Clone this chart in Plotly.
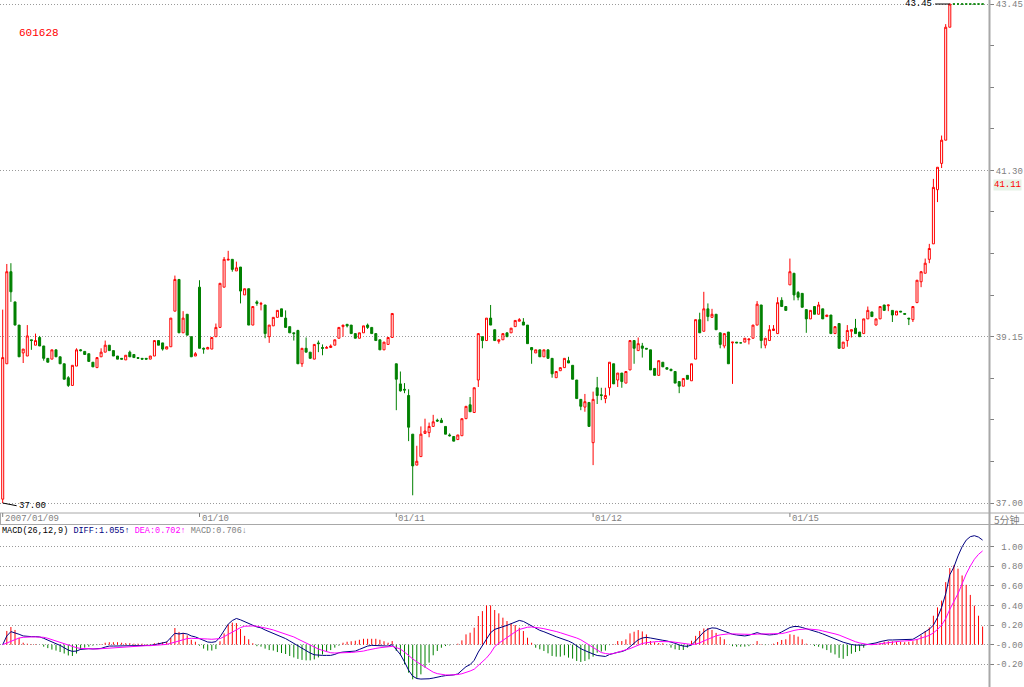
import plotly.graph_objects as go

# ---------------- data (5-minute bars, 601628, 2007/01/09 - 01/15) ----------------
open_ = [
    37.05, 38.80, 39.99, 39.60, 39.30, 38.94, 38.90, 39.11, 39.04, 39.14,
    39.03, 38.87, 38.86, 38.98, 38.89, 38.80, 38.62, 38.52, 38.77, 38.98,
    38.96, 38.93, 38.82, 38.75, 38.89, 38.95, 39.04, 38.97, 38.90, 38.87,
    38.85, 38.95, 38.92, 38.88, 38.87, 38.87, 38.86, 38.90, 39.10, 39.07,
    38.99, 39.02, 39.48, 39.89, 39.20, 39.44, 39.15, 38.90, 39.79, 39.00,
    38.99, 38.99, 39.15, 39.27, 39.79, 40.14, 40.15, 40.00, 40.05, 39.69,
    39.77, 39.30, 39.60, 39.57, 39.56, 39.15, 39.29, 39.40, 39.51, 39.39,
    39.28, 39.20, 39.23, 38.80, 39.00, 38.95, 38.86, 39.07, 39.01, 39.00,
    39.01, 39.04, 39.13, 39.28, 39.31, 39.30, 39.19, 39.13, 39.20, 39.30,
    39.27, 39.19, 39.11, 38.98, 39.05, 39.14, 38.80, 38.54, 38.47, 38.39,
    37.89, 37.49, 37.60, 37.90, 37.91, 37.99, 38.07, 38.07, 37.99, 37.88,
    37.86, 37.82, 37.87, 38.09, 38.27, 38.17, 38.59, 39.15, 39.10, 39.39,
    39.24, 39.09, 39.11, 39.20, 39.20, 39.28, 39.35, 39.34, 39.30, 39.01,
    38.94, 38.98, 38.89, 38.98, 38.87, 38.62, 38.71, 38.75, 38.84, 38.78,
    38.59, 38.34, 38.24, 38.30, 37.78, 38.49, 38.40, 38.35, 38.49, 38.80,
    38.59, 38.68, 38.55, 38.72, 39.10, 38.97, 39.03, 39.00, 38.98, 38.74,
    38.65, 38.82, 38.75, 38.73, 38.70, 38.57, 38.51, 38.65, 38.58, 38.86,
    39.37, 39.22, 39.51, 39.40, 39.44, 39.20, 39.03, 39.21, 39.07, 39.08,
    39.07, 39.08, 39.11, 39.13, 39.30, 39.56, 39.04, 39.10, 39.23, 39.19,
    39.62, 39.54, 39.82, 39.97, 39.72, 39.71, 39.50, 39.38, 39.54, 39.44,
    39.51, 39.41, 39.43, 39.19, 39.32, 39.00, 39.10, 39.22, 39.26, 39.21,
    39.19, 39.38, 39.47, 39.30, 39.38, 39.56, 39.55, 39.49, 39.43, 39.48,
    39.45, 39.39, 39.37, 39.59, 39.86, 39.97, 40.15, 40.35, 41.05, 41.39,
    41.69, 43.15, 43.45, 43.45, 43.45, 43.45, 43.45, 43.45, 43.45, 43.45,
]
high = [
    39.50, 40.09, 40.10, 39.60, 39.30, 38.99, 39.30, 39.11, 39.19, 39.16,
    39.03, 38.87, 38.98, 38.98, 38.89, 38.80, 38.64, 38.78, 39.00, 38.99,
    38.96, 38.93, 38.82, 38.88, 39.00, 39.10, 39.04, 38.97, 38.90, 38.87,
    38.91, 38.97, 38.92, 38.88, 38.87, 38.87, 38.90, 39.10, 39.10, 39.07,
    39.02, 39.39, 39.94, 39.89, 39.48, 39.44, 39.15, 38.95, 39.88, 39.01,
    39.02, 39.14, 39.32, 39.84, 40.18, 40.26, 40.15, 40.12, 40.05, 39.77,
    39.77, 39.54, 39.62, 39.60, 39.56, 39.30, 39.40, 39.49, 39.51, 39.49,
    39.28, 39.20, 39.24, 39.00, 39.14, 38.95, 39.05, 39.10, 39.05, 39.03,
    39.05, 39.11, 39.27, 39.30, 39.31, 39.30, 39.19, 39.20, 39.29, 39.32,
    39.27, 39.19, 39.11, 39.08, 39.14, 39.45, 38.80, 38.70, 38.55, 38.47,
    37.89, 37.74, 37.99, 38.09, 38.04, 38.14, 38.09, 38.10, 37.99, 37.90,
    37.86, 37.88, 38.09, 38.25, 38.37, 38.49, 39.19, 39.15, 39.39, 39.56,
    39.24, 39.11, 39.19, 39.20, 39.26, 39.36, 39.39, 39.39, 39.30, 39.01,
    38.98, 38.98, 38.98, 38.98, 38.87, 38.70, 38.75, 38.87, 38.89, 38.78,
    38.59, 38.34, 38.41, 38.30, 38.44, 38.63, 38.49, 38.49, 38.82, 38.80,
    38.68, 38.68, 38.70, 39.10, 39.10, 39.14, 39.07, 39.00, 38.98, 38.74,
    38.84, 38.82, 38.75, 38.73, 38.70, 38.57, 38.61, 38.65, 38.80, 39.37,
    39.46, 39.73, 39.58, 39.51, 39.44, 39.20, 39.19, 39.21, 39.08, 39.08,
    39.07, 39.13, 39.12, 39.30, 39.61, 39.56, 39.13, 39.30, 39.30, 39.66,
    39.66, 39.54, 40.16, 39.97, 39.74, 39.71, 39.50, 39.49, 39.54, 39.60,
    39.51, 39.43, 39.43, 39.28, 39.32, 39.08, 39.30, 39.24, 39.38, 39.21,
    39.38, 39.54, 39.47, 39.38, 39.54, 39.56, 39.56, 39.49, 39.48, 39.48,
    39.45, 39.39, 39.54, 39.88, 40.00, 40.16, 40.35, 41.19, 41.34, 41.75,
    43.19, 43.45, 43.45, 43.45, 43.45, 43.45, 43.45, 43.45, 43.45, 43.45,
]
low = [
    37.00, 38.80, 39.60, 39.30, 38.89, 38.81, 38.90, 38.98, 39.04, 39.03,
    38.84, 38.82, 38.86, 38.89, 38.80, 38.60, 38.50, 38.52, 38.77, 38.96,
    38.92, 38.83, 38.76, 38.75, 38.89, 38.95, 38.97, 38.90, 38.86, 38.86,
    38.85, 38.89, 38.88, 38.87, 38.86, 38.86, 38.86, 38.90, 39.04, 38.97,
    38.99, 39.02, 39.48, 39.20, 39.20, 39.17, 38.89, 38.90, 39.00, 38.93,
    38.99, 38.99, 39.15, 39.27, 39.79, 40.14, 39.99, 40.00, 39.58, 39.69,
    39.30, 39.30, 39.55, 39.49, 39.13, 39.07, 39.29, 39.40, 39.41, 39.27,
    39.20, 39.10, 38.80, 38.76, 38.95, 38.87, 38.86, 38.95, 38.91, 39.00,
    39.01, 39.04, 39.13, 39.15, 39.27, 39.19, 39.13, 39.13, 39.20, 39.25,
    39.19, 39.10, 38.98, 38.98, 39.05, 39.14, 38.20, 38.44, 38.42, 37.80,
    37.10, 37.49, 37.60, 37.90, 37.85, 37.99, 38.05, 38.04, 37.89, 37.86,
    37.80, 37.82, 37.87, 38.09, 38.18, 38.17, 38.50, 39.00, 39.10, 39.30,
    39.10, 39.06, 39.11, 39.15, 39.20, 39.28, 39.35, 39.30, 39.06, 38.80,
    38.94, 38.89, 38.89, 38.87, 38.62, 38.62, 38.71, 38.75, 38.81, 38.60,
    38.35, 38.20, 38.18, 37.99, 37.49, 38.28, 38.33, 38.29, 38.39, 38.54,
    38.50, 38.49, 38.55, 38.72, 38.80, 38.97, 38.88, 38.99, 38.72, 38.65,
    38.65, 38.76, 38.73, 38.71, 38.55, 38.42, 38.51, 38.60, 38.58, 38.86,
    39.20, 39.22, 39.35, 39.40, 39.24, 39.00, 39.00, 38.80, 38.54, 39.07,
    39.07, 39.08, 39.05, 39.13, 39.30, 39.00, 39.00, 39.10, 39.23, 39.19,
    39.54, 39.49, 39.82, 39.62, 39.62, 39.53, 39.20, 39.38, 39.44, 39.44,
    39.38, 39.41, 39.19, 39.19, 39.00, 39.00, 39.02, 39.14, 39.19, 39.15,
    39.19, 39.38, 39.41, 39.30, 39.38, 39.49, 39.48, 39.34, 39.43, 39.47,
    39.44, 39.30, 39.34, 39.59, 39.79, 39.97, 40.10, 40.35, 40.89, 41.33,
    41.69, 43.15, 43.45, 43.45, 43.45, 43.45, 43.45, 43.45, 43.45, 43.45,
]
close = [
    38.88, 39.99, 39.73, 39.30, 38.89, 38.99, 39.16, 39.10, 39.10, 39.03,
    38.87, 38.82, 38.98, 38.89, 38.80, 38.60, 38.52, 38.78, 38.98, 38.97,
    38.92, 38.83, 38.76, 38.88, 38.95, 39.04, 38.97, 38.90, 38.86, 38.86,
    38.91, 38.89, 38.88, 38.87, 38.86, 38.86, 38.90, 39.10, 39.04, 38.99,
    39.02, 39.39, 39.89, 39.20, 39.39, 39.17, 38.89, 38.93, 39.00, 38.99,
    39.01, 39.14, 39.27, 39.84, 40.15, 40.15, 40.02, 40.04, 39.74, 39.77,
    39.30, 39.54, 39.58, 39.58, 39.19, 39.30, 39.40, 39.49, 39.41, 39.27,
    39.20, 39.19, 38.80, 39.00, 38.95, 38.87, 39.05, 39.06, 39.00, 39.01,
    39.03, 39.11, 39.27, 39.30, 39.29, 39.19, 39.13, 39.20, 39.29, 39.27,
    39.19, 39.10, 38.98, 39.08, 39.14, 39.45, 38.60, 38.45, 38.46, 37.98,
    37.48, 37.54, 37.89, 37.93, 37.99, 38.05, 38.06, 38.04, 37.89, 37.87,
    37.80, 37.88, 38.09, 38.25, 38.18, 38.49, 39.19, 39.10, 39.39, 39.30,
    39.10, 39.11, 39.19, 39.15, 39.26, 39.36, 39.37, 39.30, 39.06, 38.98,
    38.98, 38.89, 38.98, 38.87, 38.67, 38.70, 38.75, 38.87, 38.81, 38.60,
    38.35, 38.25, 38.31, 37.99, 38.34, 38.39, 38.39, 38.39, 38.82, 38.54,
    38.68, 38.57, 38.70, 39.10, 39.00, 39.06, 39.00, 38.99, 38.72, 38.65,
    38.84, 38.76, 38.73, 38.71, 38.55, 38.51, 38.61, 38.60, 38.80, 39.37,
    39.20, 39.51, 39.41, 39.44, 39.24, 39.05, 39.19, 38.80, 39.08, 39.07,
    39.07, 39.13, 39.12, 39.30, 39.57, 39.10, 39.13, 39.24, 39.25, 39.59,
    39.54, 39.49, 39.99, 39.69, 39.66, 39.53, 39.38, 39.49, 39.44, 39.56,
    39.38, 39.43, 39.19, 39.28, 39.00, 39.08, 39.23, 39.24, 39.19, 39.15,
    39.38, 39.49, 39.41, 39.38, 39.54, 39.49, 39.56, 39.43, 39.48, 39.47,
    39.44, 39.38, 39.54, 39.88, 39.99, 40.10, 40.29, 41.08, 41.34, 41.69,
    43.15, 43.45, 43.45, 43.45, 43.45, 43.45, 43.45, 43.45, 43.45, 43.45,
]

diff = [
    0.000, 0.089, 0.133, 0.123, 0.106, 0.089, 0.082, 0.082, 0.082, 0.079,
    0.065, 0.044, 0.027, 0.010, -0.007, -0.031, -0.055, -0.068, -0.065, -0.048,
    -0.041, -0.041, -0.044, -0.044, -0.038, -0.024, -0.014, -0.014, -0.014, -0.014,
    -0.014, -0.010, -0.010, -0.010, -0.010, -0.010, -0.007, 0.000, 0.007, 0.014,
    0.027, 0.072, 0.116, 0.109, 0.116, 0.109, 0.089, 0.079, 0.062, 0.041,
    0.027, 0.024, 0.031, 0.079, 0.140, 0.209, 0.246, 0.267, 0.253, 0.232,
    0.219, 0.198, 0.181, 0.171, 0.150, 0.133, 0.120, 0.099, 0.082, 0.062,
    0.038, 0.014, -0.014, -0.041, -0.065, -0.085, -0.103, -0.109, -0.109, -0.109,
    -0.109, -0.099, -0.082, -0.075, -0.072, -0.068, -0.065, -0.048, -0.031, -0.014,
    -0.007, -0.007, -0.007, -0.010, -0.014, 0.000, -0.050, -0.100, -0.175, -0.260,
    -0.320, -0.345, -0.350, -0.350, -0.347, -0.340, -0.329, -0.322, -0.315, -0.312,
    -0.308, -0.298, -0.258, -0.224, -0.203, -0.159, -0.075, -0.007, 0.061, 0.122,
    0.156, 0.173, 0.183, 0.197, 0.214, 0.234, 0.247, 0.237, 0.214, 0.190,
    0.163, 0.146, 0.132, 0.119, 0.098, 0.081, 0.068, 0.054, 0.037, 0.017,
    -0.014, -0.041, -0.060, -0.080, -0.095, -0.110, -0.115, -0.120, -0.100, -0.085,
    -0.078, -0.070, -0.055, -0.020, 0.012, 0.050, 0.068, 0.075, 0.068, 0.058,
    0.051, 0.045, 0.038, 0.027, 0.014, -0.003, -0.014, -0.017, -0.003, 0.038,
    0.089, 0.130, 0.158, 0.171, 0.168, 0.151, 0.134, 0.120, 0.106, 0.099,
    0.092, 0.089, 0.096, 0.110, 0.123, 0.110, 0.103, 0.099, 0.103, 0.110,
    0.130, 0.151, 0.175, 0.185, 0.185, 0.175, 0.164, 0.154, 0.140, 0.125,
    0.110, 0.095, 0.078, 0.060, 0.042, 0.025, 0.012, 0.002, -0.004, -0.006,
    -0.005, 0.003, 0.008, 0.018, 0.031, 0.041, 0.048, 0.048, 0.048, 0.048,
    0.048, 0.048, 0.055, 0.079, 0.106, 0.130, 0.158, 0.199, 0.277, 0.380,
    0.517, 0.712, 0.791, 0.904, 0.997, 1.065, 1.100, 1.110, 1.096, 1.065,
]
dea = [
    0.000, 0.017, 0.041, 0.058, 0.068, 0.075, 0.079, 0.079, 0.079, 0.079,
    0.075, 0.065, 0.051, 0.038, 0.024, 0.010, -0.007, -0.021, -0.031, -0.038,
    -0.041, -0.041, -0.044, -0.044, -0.041, -0.038, -0.034, -0.031, -0.027, -0.024,
    -0.021, -0.017, -0.014, -0.014, -0.014, -0.010, -0.010, -0.007, -0.003, 0.000,
    0.003, 0.014, 0.027, 0.041, 0.055, 0.062, 0.065, 0.065, 0.065, 0.062,
    0.058, 0.055, 0.055, 0.062, 0.082, 0.106, 0.133, 0.157, 0.174, 0.188,
    0.191, 0.191, 0.188, 0.181, 0.171, 0.161, 0.150, 0.137, 0.123, 0.109,
    0.096, 0.079, 0.058, 0.038, 0.014, -0.007, -0.027, -0.044, -0.058, -0.072,
    -0.082, -0.085, -0.085, -0.085, -0.082, -0.079, -0.075, -0.072, -0.065, -0.055,
    -0.044, -0.038, -0.031, -0.027, -0.024, -0.017, -0.030, -0.045, -0.075, -0.115,
    -0.145, -0.175, -0.200, -0.230, -0.255, -0.280, -0.295, -0.305, -0.308, -0.309,
    -0.308, -0.304, -0.296, -0.284, -0.268, -0.250, -0.215, -0.175, -0.135, -0.085,
    -0.020, 0.015, 0.045, 0.075, 0.105, 0.130, 0.155, 0.170, 0.178, 0.180,
    0.178, 0.170, 0.163, 0.155, 0.145, 0.134, 0.122, 0.110, 0.097, 0.085,
    0.068, 0.050, 0.025, 0.000, -0.025, -0.050, -0.080, -0.090, -0.095, -0.090,
    -0.075, -0.065, -0.052, -0.040, -0.020, 0.000, 0.012, 0.020, 0.027, 0.030,
    0.032, 0.033, 0.032, 0.030, 0.025, 0.018, 0.010, 0.004, 0.002, 0.006,
    0.018, 0.038, 0.058, 0.075, 0.090, 0.100, 0.107, 0.110, 0.110, 0.108,
    0.106, 0.104, 0.103, 0.104, 0.108, 0.108, 0.107, 0.106, 0.106, 0.108,
    0.113, 0.122, 0.135, 0.145, 0.153, 0.158, 0.160, 0.158, 0.155, 0.150,
    0.140, 0.132, 0.122, 0.110, 0.098, 0.080, 0.062, 0.045, 0.030, 0.018,
    0.008, 0.002, 0.000, 0.002, 0.008, 0.015, 0.022, 0.028, 0.033, 0.036,
    0.038, 0.040, 0.045, 0.053, 0.065, 0.080, 0.095, 0.120, 0.155, 0.200,
    0.265, 0.360, 0.440, 0.520, 0.620, 0.720, 0.800, 0.870, 0.920, 0.955,
]
macd_hist = [
    0.000, 0.140, 0.180, 0.150, 0.070, 0.020, 0.010, 0.005, 0.005, 0.000,
    -0.020, -0.035, -0.050, -0.060, -0.075, -0.090, -0.110, -0.115, -0.090, -0.050,
    -0.030, -0.020, -0.010, -0.005, 0.005, 0.020, 0.025, 0.025, 0.025, 0.020,
    0.015, 0.015, 0.010, 0.010, 0.010, 0.005, 0.005, 0.015, 0.020, 0.025,
    0.030, 0.070, 0.170, 0.130, 0.120, 0.095, 0.050, 0.030, -0.010, -0.040,
    -0.060, -0.060, -0.045, 0.035, 0.115, 0.205, 0.225, 0.220, 0.160, 0.090,
    0.055, 0.015, -0.015, -0.020, -0.040, -0.055, -0.060, -0.075, -0.085, -0.095,
    -0.115, -0.130, -0.145, -0.155, -0.160, -0.160, -0.150, -0.130, -0.100, -0.075,
    -0.055, -0.030, -0.010, 0.020, 0.030, 0.035, 0.040, 0.050, 0.060, 0.060,
    0.060, 0.060, 0.050, 0.035, 0.020, 0.037, -0.064, -0.108, -0.200, -0.285,
    -0.353, -0.346, -0.302, -0.234, -0.183, -0.108, -0.064, -0.031, -0.014, -0.007,
    0.000, 0.010, 0.044, 0.105, 0.122, 0.173, 0.292, 0.342, 0.400, 0.400,
    0.353, 0.319, 0.275, 0.241, 0.217, 0.200, 0.173, 0.139, 0.071, 0.020,
    -0.031, -0.047, -0.064, -0.088, -0.115, -0.122, -0.122, -0.108, -0.132, -0.142,
    -0.166, -0.176, -0.166, -0.149, -0.122, -0.081, -0.070, -0.060, -0.005, 0.005,
    0.037, 0.037, 0.054, 0.115, 0.132, 0.149, 0.135, 0.105, 0.037, 0.025,
    0.017, 0.014, -0.005, -0.030, -0.047, -0.054, -0.054, -0.030, 0.040, 0.090,
    0.140, 0.165, 0.170, 0.150, 0.120, 0.080, 0.055, 0.000, -0.015, -0.020,
    -0.020, -0.020, -0.015, 0.005, 0.037, 0.005, -0.005, 0.000, 0.010, 0.027,
    0.048, 0.055, 0.106, 0.100, 0.082, 0.055, 0.010, 0.000, -0.014, -0.021,
    -0.038, -0.055, -0.082, -0.099, -0.134, -0.144, -0.116, -0.092, -0.075, -0.065,
    -0.031, 0.005, 0.010, 0.010, 0.020, 0.030, 0.035, 0.035, 0.030, 0.030,
    0.025, 0.030, 0.035, 0.055, 0.096, 0.140, 0.175, 0.295, 0.380, 0.449,
    0.637, 0.780, 0.808, 0.774, 0.705, 0.610, 0.507, 0.397, 0.295, 0.185,
]

day_ticks = [0, 48, 96, 144, 192]
day_labels = ["2007/01/09", "01/10", "01/11", "01/12", "01/15"]
price_ticks = [37.00, 39.15, 41.30, 43.45]
macd_ticks = [-0.20, 0.00, 0.20, 0.40, 0.60, 0.80, 1.00]
macd_tick_text = ["-0.20", "-0.00", "\u00a00.20", "\u00a00.40", "\u00a00.60", "\u00a00.80", "\u00a01.00"]
stock_code = "601628"
cursor_price = 41.11
macd_header = ("MACD(26,12,9) "
               "<span style='color:#000080'>DIFF:1.055\u2191</span> "
               "<span style='color:#FF00FF'>DEA:0.702\u2191</span> "
               "<span style='color:#808080'>MACD:0.706\u2193</span>")
period_label = "5分钟"

n = len(close)
assert len(open_) == n and len(high) == n and len(low) == n
assert len(diff) == n and len(dea) == n and len(macd_hist) == n
bars = list(range(n))

# ---------------- layout helpers (pixel -> paper) ----------------
W, H = 1024, 687
PLOT_W = 989
def px(x):
    return x / PLOT_W
def py(y):
    return (H - y) / H

MONO = "Liberation Mono, DejaVu Sans Mono, monospace"
GREY = "#808080"
LINE = "#A8A8A8"
GRID = "#9A9A9A"
UP = "#FF0000"
DOWN = "#008000"

fig = go.Figure()

# rising bars (close > open): hollow red; the rest (falling / flat): solid green
up_idx = [i for i in bars if close[i] > open_[i]]
dn_idx = [i for i in bars if close[i] <= open_[i]]

def pick(arr, idx):
    return [arr[i] for i in idx]

fig.add_trace(go.Candlestick(
    x=up_idx, open=pick(open_, up_idx), high=pick(high, up_idx),
    low=pick(low, up_idx), close=pick(close, up_idx),
    increasing=dict(line=dict(color=UP, width=1), fillcolor="#FFFFFF"),
    decreasing=dict(line=dict(color=UP, width=1), fillcolor="#FFFFFF"),
    whiskerwidth=0, xaxis="x", yaxis="y", hoverinfo="skip",
))
fig.add_trace(go.Candlestick(
    x=dn_idx, open=pick(open_, dn_idx), high=pick(high, dn_idx),
    low=pick(low, dn_idx), close=pick(close, dn_idx),
    increasing=dict(line=dict(color=DOWN, width=1), fillcolor=DOWN),
    decreasing=dict(line=dict(color=DOWN, width=1), fillcolor=DOWN),
    whiskerwidth=0, xaxis="x", yaxis="y", hoverinfo="skip",
))

# MACD histogram as thin stems
def stems(positive):
    xs, ys = [], []
    for i, v in zip(bars, macd_hist):
        if (v > 0) if positive else (v < 0):
            xs += [i, i, None]
            ys += [0, v, None]
    return xs, ys

for positive, col in ((True, UP), (False, DOWN)):
    sx, sy = stems(positive)
    fig.add_trace(go.Scatter(x=sx, y=sy, mode="lines", line=dict(color=col, width=1),
                             xaxis="x2", yaxis="y2", hoverinfo="skip", connectgaps=False))

fig.add_trace(go.Scatter(x=bars, y=diff, mode="lines",
                         line=dict(color="#000080", width=1),
                         xaxis="x2", yaxis="y2", hoverinfo="skip"))
fig.add_trace(go.Scatter(x=bars, y=dea, mode="lines",
                         line=dict(color="#FF00FF", width=1),
                         xaxis="x2", yaxis="y2", hoverinfo="skip"))

x_range = [-0.659, 240.56]

shapes = []
annotations = []

# date strip
shapes.append(dict(type="line", xref="paper", yref="paper", x0=0, x1=px(W), y0=py(513), y1=py(513),
                   line=dict(color=LINE, width=1)))
shapes.append(dict(type="line", xref="paper", yref="paper", x0=0, x1=px(W), y0=py(524.5), y1=py(524.5),
                   line=dict(color=LINE, width=1)))
shapes.append(dict(type="line", xref="paper", yref="paper", x0=px(0.5), x1=px(0.5), y0=py(513), y1=py(524.5),
                   line=dict(color=LINE, width=1)))
# right frame line
shapes.append(dict(type="line", xref="paper", yref="paper", x0=px(989.5), x1=px(989.5), y0=0, y1=1,
                   line=dict(color=LINE, width=2)))
for t, lab in zip(day_ticks, day_labels):
    shapes.append(dict(type="line", xref="x", yref="paper", x0=t, x1=t, y0=py(513), y1=py(517),
                       line=dict(color=GREY, width=1)))
    annotations.append(dict(x=t, xref="x", y=py(519), yref="paper", text=lab, showarrow=False,
                            xanchor="left", yanchor="middle", xshift=0,
                            font=dict(family=MONO, size=9, color=GREY)))
annotations.append(dict(x=px(992), xref="paper", y=py(519), yref="paper", text=period_label,
                        showarrow=False, xanchor="left", yanchor="middle",
                        font=dict(family="Noto Sans CJK SC", size=10, color=GREY)))

# high / low markers
hi_val = max(high)
hi_idx = high.index(hi_val)
lo_val = min(low)
lo_idx = low.index(lo_val)
shapes.append(dict(type="line", xref="x", yref="y", x0=hi_idx - 3.6, x1=hi_idx, y0=hi_val, y1=hi_val,
                   line=dict(color="#000000", width=1)))
annotations.append(dict(x=hi_idx - 3.6, xref="x", y=hi_val, yref="y", text=f"{hi_val:.2f}",
                        showarrow=False, xanchor="right", yanchor="middle", xshift=-1,
                        font=dict(family=MONO, size=9, color="#000000")))
shapes.append(dict(type="line", xref="x", yref="y", x0=lo_idx, x1=lo_idx + 3.4, y0=lo_val, y1=lo_val - 0.035,
                   line=dict(color="#000000", width=1)))
annotations.append(dict(x=lo_idx + 3.5, xref="x", y=lo_val - 0.04, yref="y", text=f"{lo_val:.2f}",
                        showarrow=False, xanchor="left", yanchor="middle",
                        font=dict(family=MONO, size=9, color="#000000")))

# texts
annotations.append(dict(x=px(17), xref="paper", y=py(33), yref="paper", text=stock_code, showarrow=False,
                        xanchor="left", yanchor="middle", font=dict(family=MONO, size=11, color="#FF0000")))
annotations.append(dict(x=0, xref="paper", y=py(531), yref="paper", text=macd_header, showarrow=False,
                        xanchor="left", yanchor="middle", font=dict(family=MONO, size=8.5, color="#000000")))
annotations.append(dict(x=px(993), xref="paper", y=cursor_price, yref="y", text=f"{cursor_price:.2f}",
                        showarrow=False, xanchor="left", yanchor="middle", bgcolor="#E6F2E6",
                        borderpad=0, font=dict(family=MONO, size=9, color="#FF0000")))

fig.update_layout(
    width=W, height=H,
    margin=dict(l=0, r=W - PLOT_W, t=0, b=0),
    paper_bgcolor="#FFFFFF", plot_bgcolor="#FFFFFF",
    showlegend=False, hovermode=False,
    xaxis=dict(domain=[0, 1], range=x_range, anchor="y", showticklabels=False, showgrid=False,
               zeroline=False, showline=False, ticks="", rangeslider=dict(visible=False), fixedrange=True),
    yaxis=dict(domain=[py(512), 1], range=[36.884, 43.502], side="right", anchor="x",
               tickmode="array", tickvals=price_ticks, ticktext=[f"{v:.2f}" for v in price_ticks],
               showgrid=True, gridcolor=GRID, griddash="1px,2px", gridwidth=1,
               ticks="outside", ticklen=4, tickcolor=GREY, showline=False, zeroline=False,
               tickfont=dict(family=MONO, size=9, color=GREY),
               minor=dict(tickmode="linear", tick0=37.0, dtick=0.5375, ticks="outside",
                          ticklen=4, tickcolor=GREY, showgrid=False),
               fixedrange=True),
    xaxis2=dict(domain=[0, 1], range=x_range, anchor="y2", matches="x", showticklabels=False,
                showgrid=False, zeroline=False, showline=False, ticks="", fixedrange=True),
    yaxis2=dict(domain=[0, py(525)], range=[-0.431, 1.219], side="right", anchor="x2",
                tickmode="array", tickvals=macd_ticks, ticktext=macd_tick_text,
                showgrid=True, gridcolor=GRID, griddash="1px,2px", gridwidth=1,
                ticks="outside", ticklen=4, tickcolor=GREY, showline=False, zeroline=False,
                tickfont=dict(family=MONO, size=9, color=GREY), fixedrange=True),
    shapes=shapes, annotations=annotations,
)

fig.write_html("out.html", config={"displayModeBar": False})
